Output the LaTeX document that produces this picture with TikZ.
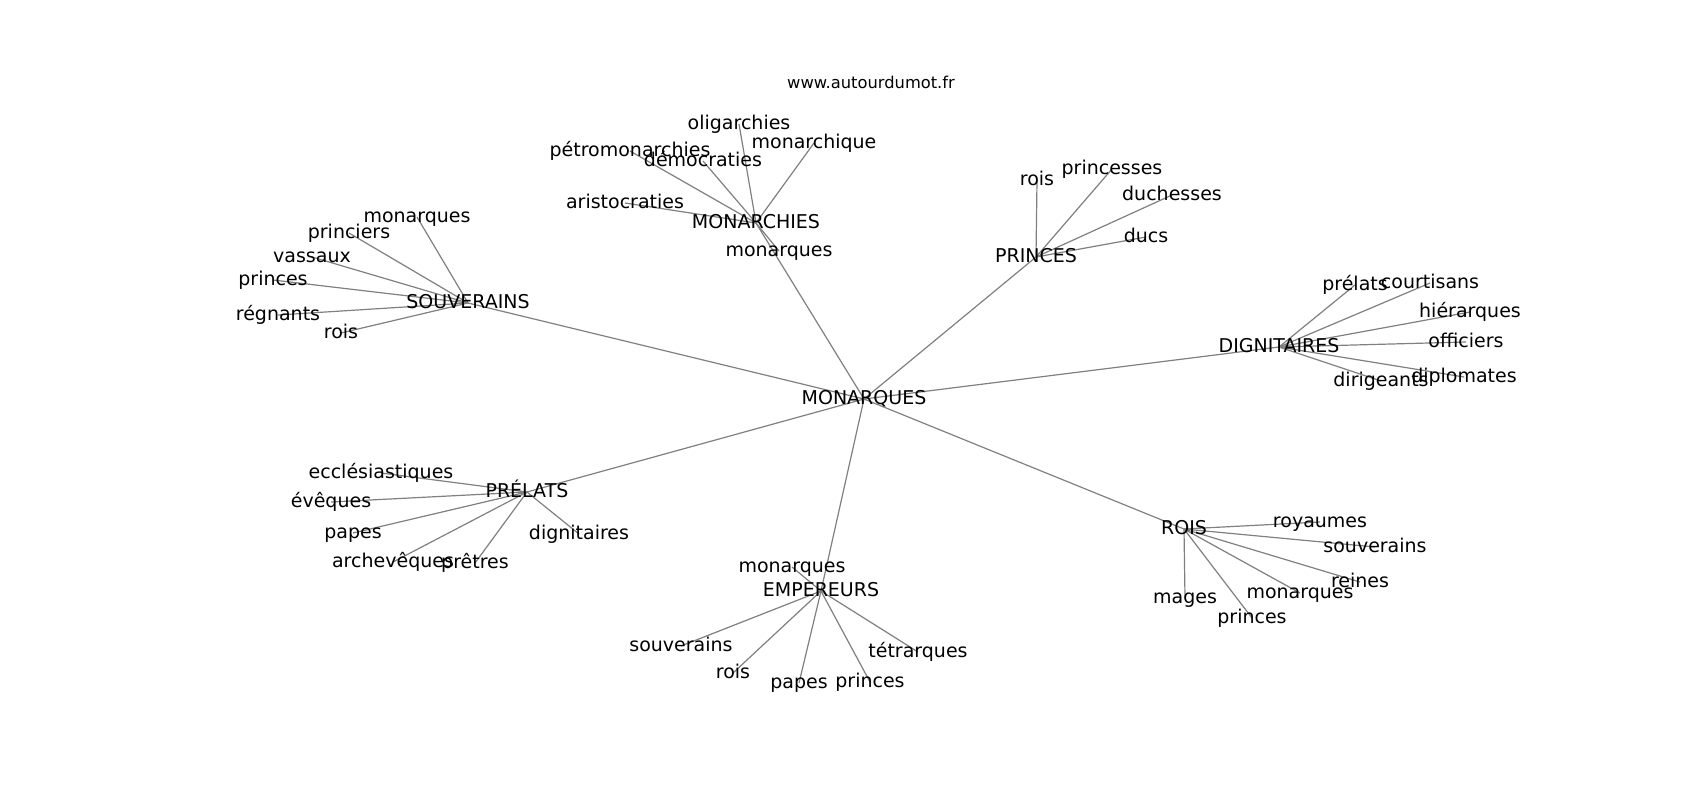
\documentclass[tikz,border=0pt]{standalone}
\usepackage{fontspec}
\setmainfont{DejaVu Sans}
\usetikzlibrary{backgrounds}
\tikzset{
  lbl/.style={inner sep=0pt, outer sep=0pt, text height=15pt, text depth=3.4pt, font=\fontsize{19}{19}\selectfont, text=black},
  ttl/.style={inner sep=0pt, font=\fontsize{16.3}{16.3}\selectfont, text=black},
  edge/.style={draw=black!50, line width=1.2pt}
}
\begin{document}
\begin{tikzpicture}[x=1pt,y=-1pt]
\useasboundingbox (0,0) rectangle (1700,800);
\node[ttl] (title) at (871,82) {www.autourdumot.fr};
% centre
\node[lbl] (M) at (864,399) {MONARQUES};
% MONARCHIES
\node[lbl] (MCH) at (756,223) {MONARCHIES};
\node[lbl] (mch1) at (739,124) {oligarchies};
\node[lbl] (mch2) at (814,143) {monarchique};
\node[lbl] (mch3) at (630,151) {pétromonarchies};
\node[lbl] (mch4) at (703,161) {démocraties};
\node[lbl] (mch5) at (625,203) {aristocraties};
\node[lbl] (mch6) at (779,251) {monarques};
% SOUVERAINS
\node[lbl] (SOU) at (468,303) {SOUVERAINS};
\node[lbl] (sou1) at (417,217) {monarques};
\node[lbl] (sou2) at (349,233) {princiers};
\node[lbl] (sou3) at (312,257) {vassaux};
\node[lbl] (sou4) at (273,280) {princes};
\node[lbl] (sou5) at (278,315) {régnants};
\node[lbl] (sou6) at (341,333) {rois};
% PRINCES
\node[lbl] (PR) at (1036,257) {PRINCES};
\node[lbl] (pr1) at (1037,180) {rois};
\node[lbl] (pr2) at (1112,169) {princesses};
\node[lbl] (pr3) at (1172,195) {duchesses};
\node[lbl] (pr4) at (1146,237) {ducs};
% DIGNITAIRES
\node[lbl] (DG) at (1279,347) {DIGNITAIRES};
\node[lbl] (dg1) at (1355,285) {prélats};
\node[lbl] (dg2) at (1430,283) {courtisans};
\node[lbl] (dg3) at (1470,312) {hiérarques};
\node[lbl] (dg4) at (1466,342) {officiers};
\node[lbl] (dg5) at (1381,381) {dirigeants};
\node[lbl] (dg6) at (1464,377) {diplomates};
% ROIS
\node[lbl] (RO) at (1184,529) {ROIS};
\node[lbl] (ro1) at (1320,522) {royaumes};
\node[lbl] (ro2) at (1375,547) {souverains};
\node[lbl] (ro3) at (1360,582) {reines};
\node[lbl] (ro4) at (1300,593) {monarques};
\node[lbl] (ro5) at (1185,598) {mages};
\node[lbl] (ro6) at (1252,618) {princes};
% PRELATS
\node[lbl] (PL) at (527,492) {PRÉLATS};
\node[lbl] (pl1) at (381,473) {ecclésiastiques};
\node[lbl] (pl2) at (331,502) {évêques};
\node[lbl] (pl3) at (353,533) {papes};
\node[lbl] (pl4) at (393,562) {archevêques};
\node[lbl] (pl5) at (475,563) {prêtres};
\node[lbl] (pl6) at (579,534) {dignitaires};
% EMPEREURS
\node[lbl] (EM) at (821,591) {EMPEREURS};
\node[lbl] (em1) at (792,567) {monarques};
\node[lbl] (em2) at (681,646) {souverains};
\node[lbl] (em3) at (733,673) {rois};
\node[lbl] (em4) at (799,683) {papes};
\node[lbl] (em5) at (870,682) {princes};
\node[lbl] (em6) at (918,652) {tétrarques};
\begin{scope}[on background layer]
\fill[white] (0,0) rectangle (1700,800);
\foreach \h in {MCH,SOU,PR,DG,RO,PL,EM}
  \draw[edge] (M.center) -- (\h.center);
\foreach \l in {mch1,mch2,mch3,mch4,mch5,mch6}
  \draw[edge] (MCH.center) -- (\l.center);
\foreach \l in {sou1,sou2,sou3,sou4,sou5,sou6}
  \draw[edge] (SOU.center) -- (\l.center);
\foreach \l in {pr1,pr2,pr3,pr4}
  \draw[edge] (PR.center) -- (\l.center);
\foreach \l in {dg1,dg2,dg3,dg4,dg5,dg6}
  \draw[edge] (DG.center) -- (\l.center);
\foreach \l in {ro1,ro2,ro3,ro4,ro5,ro6}
  \draw[edge] (RO.center) -- (\l.center);
\foreach \l in {pl1,pl2,pl3,pl4,pl5,pl6}
  \draw[edge] (PL.center) -- (\l.center);
\foreach \l in {em1,em2,em3,em4,em5,em6}
  \draw[edge] (EM.center) -- (\l.center);
\end{scope}
\end{tikzpicture}
\end{document}
